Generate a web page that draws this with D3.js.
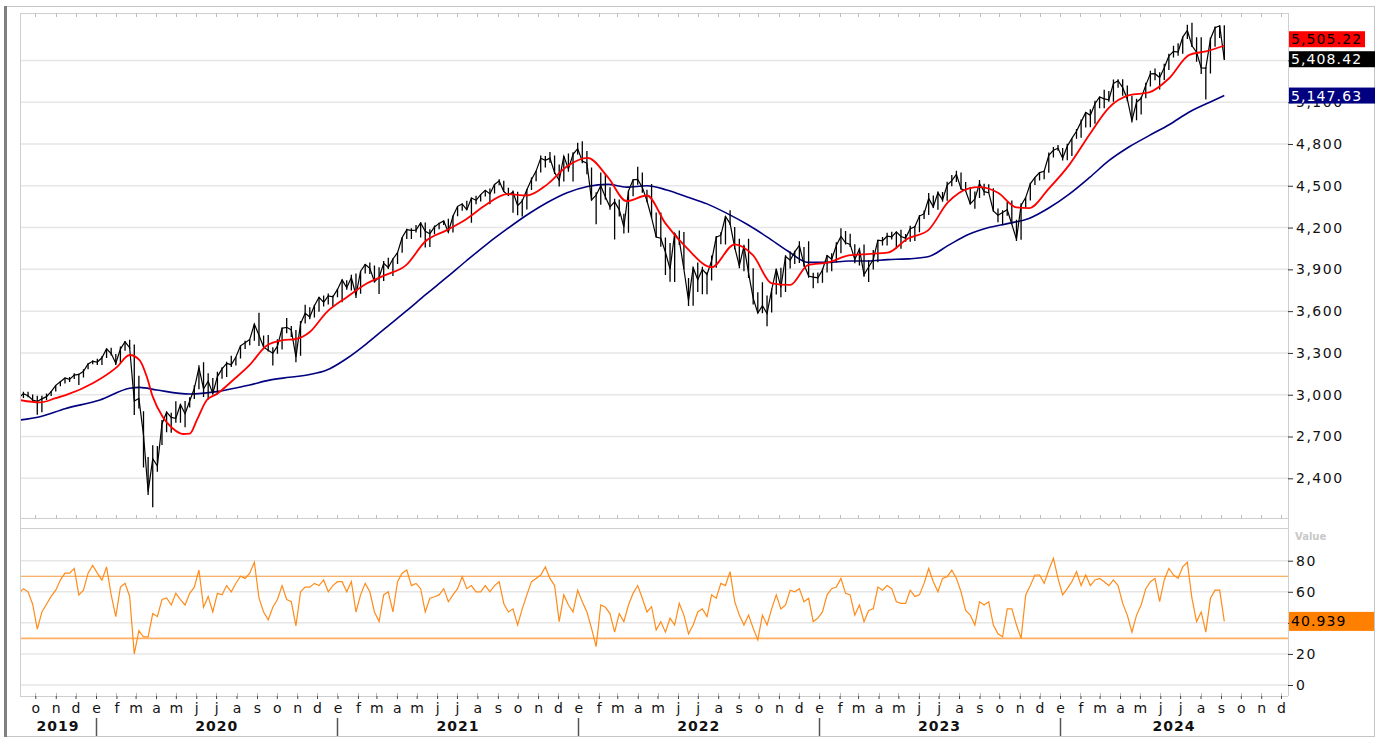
<!DOCTYPE html>
<html>
<head>
<meta charset="utf-8">
<script src="https://cdn.jsdelivr.net/npm/d3@7"></script>
<style>
  body { margin: 0; background: #fff; }
  svg { display: block; font-family: "DejaVu Sans", Verdana, sans-serif; }
</style>
</head>
<body>
<div id="root"></div>
<script>
// weekly closes, Fridays from 2019-09-06 to 2024-09-06
const closes = [
  2978.71,3007.39,2992.07,2961.79,2952.01,2970.27,2986.20,3022.55,3066.91,3093.08,
  3120.46,3110.29,3140.98,3145.91,3168.80,3221.22,3240.02,3234.85,3265.35,3329.62,
  3295.47,3225.52,3327.71,3380.16,3337.75,2954.22,2972.37,2711.02,2304.92,2541.47,
  2488.65,2789.82,2874.56,2836.74,2830.71,2929.80,2863.70,2955.45,3044.31,3193.93,
  3041.31,3097.74,3009.05,3130.01,3185.04,3224.73,3215.63,3271.12,3351.28,3372.85,
  3397.16,3508.01,3426.96,3340.97,3319.47,3298.46,3348.44,3477.13,3483.81,3465.39,
  3269.96,3509.44,3585.15,3557.54,3638.35,3699.12,3663.46,3709.41,3703.06,3756.07,
  3824.68,3768.25,3841.47,3714.24,3886.83,3934.83,3906.71,3811.15,3841.94,3943.34,
  3913.10,3974.54,4019.87,4128.80,4185.47,4180.17,4181.17,4232.60,4173.85,4155.86,
  4204.11,4229.89,4247.44,4166.45,4280.70,4352.34,4369.55,4327.16,4411.79,4395.26,
  4436.52,4468.00,4441.67,4509.37,4535.43,4458.58,4432.99,4455.48,4357.04,4391.34,
  4471.37,4544.90,4605.38,4697.53,4682.85,4697.96,4594.62,4538.43,4712.02,4620.64,
  4725.79,4766.18,4677.03,4662.85,4397.94,4431.85,4500.53,4418.64,4348.87,4384.65,
  4328.87,4204.31,4463.12,4543.06,4545.86,4488.28,4392.59,4271.78,4131.93,4123.34,
  4023.89,3901.36,4158.24,4108.54,3900.86,3674.84,3911.74,3825.33,3899.38,3863.16,
  3961.63,4130.29,4145.19,4280.15,4228.48,4057.66,3924.26,4067.36,3873.33,3693.23,
  3585.62,3639.66,3583.07,3752.75,3901.06,3770.55,3992.93,3965.34,4026.12,4071.70,
  3934.38,3852.36,3844.82,3839.50,3895.08,3999.09,3972.61,4070.56,4136.48,4090.46,
  4079.09,3970.04,4045.64,3861.59,3916.64,3970.99,4109.31,4105.02,4137.64,4133.52,
  4169.48,4136.25,4124.08,4191.98,4205.45,4282.37,4298.86,4409.59,4348.33,4450.38,
  4398.95,4505.42,4536.34,4582.23,4478.03,4464.05,4369.71,4405.71,4515.77,4457.49,
  4450.32,4320.06,4288.05,4308.50,4327.78,4224.16,4117.37,4358.34,4415.24,4514.02,
  4559.34,4594.63,4604.37,4719.19,4754.63,4769.83,4697.24,4783.83,4839.81,4890.97,
  4958.61,5026.61,5005.57,5088.80,5137.08,5123.69,5117.09,5234.18,5254.35,5204.34,
  5123.41,4967.23,5099.96,5127.79,5222.68,5303.27,5304.72,5277.51,5346.99,5431.60,
  5464.62,5460.48,5567.19,5615.35,5505.00,5459.10,5346.56,5344.16,5554.25,5634.61,
  5648.40,5408.42
];
const lows = [
  2891,2977,2982,2946,2856,2874,2962,2991,3024,3061,
  3081,3091,3113,3070,3123,3183,3219,3214,3214,3263,
  3281,3214,3223,3316,3328,2855,2901,2478,2281,2192,
  2447,2639,2730,2727,2798,2798,2767,2909,2970,3039,
  2984,2966,3004,3002,3115,3127,3199,3209,3260,3328,
  3355,3387,3349,3330,3310,3209,3294,3324,3442,3415,
  3233,3279,3512,3542,3555,3595,3633,3648,3636,3699,
  3663,3753,3749,3694,3725,3870,3866,3805,3723,3817,
  3903,3853,3939,4020,4118,4118,4164,4128,4057,4061,
  4152,4188,4218,4165,4164,4282,4321,4327,4234,4367,
  4387,4423,4368,4445,4504,4456,4427,4306,4288,4279,
  4330,4469,4533,4595,4631,4666,4585,4495,4531,4600,
  4531,4724,4662,4582,4395,4223,4363,4401,4328,4115,
  4279,4157,4162,4424,4507,4450,4381,4268,4129,4063,
  3859,3811,3810,4074,3900,3637,3639,3738,3721,3722,
  3820,3911,4080,4079,4219,4044,3907,3886,3838,3648,
  3584,3584,3491,3590,3720,3699,3737,3906,3938,3946,
  3918,3839,3764,3800,3803,3877,3886,3949,4015,4079,
  4060,3944,3928,3847,3809,3899,3951,4072,4072,4114,
  4050,4048,4099,4098,4103,4167,4261,4290,4341,4328,
  4385,4393,4497,4527,4474,4461,4365,4335,4412,4431,
  4447,4316,4238,4216,4284,4224,4104,4113,4342,4394,
  4505,4537,4546,4593,4703,4751,4682,4683,4714,4837,
  4845,4918,4920,4946,5057,5057,5104,5104,5204,5146,
  5107,4954,4970,5011,5128,5212,5257,5191,5260,5331,
  5420,5434,5448,5553,5497,5390,5302,5120,5306,5498,
  5560,5402
];
const highs = [
  2985,3021,3022,3002,2993,2993,3008,3027,3068,3098,
  3121,3128,3155,3150,3183,3226,3247,3259,3276,3330,
  3338,3293,3347,3385,3394,3360,3137,2882,2553,2637,
  2632,2818,2880,2870,2954,2933,2955,2981,3068,3211,
  3233,3155,3120,3165,3198,3236,3280,3272,3353,3388,
  3399,3509,3588,3425,3429,3341,3398,3482,3550,3494,
  3465,3529,3646,3628,3645,3702,3713,3727,3712,3760,
  3827,3822,3862,3870,3887,3938,3950,3928,3915,3960,
  3983,3979,4021,4130,4191,4195,4218,4238,4236,4187,
  4214,4235,4249,4264,4287,4355,4372,4393,4415,4429,
  4440,4468,4481,4513,4546,4536,4486,4466,4457,4404,
  4476,4560,4608,4718,4714,4743,4717,4653,4713,4731,
  4740,4808,4819,4750,4632,4453,4596,4590,4490,4406,
  4402,4299,4465,4546,4637,4595,4471,4512,4309,4308,
  4128,4090,4160,4178,4168,3838,3914,3950,3919,3880,
  3999,4140,4167,4281,4325,4204,4120,4076,4119,3908,
  3735,3807,3712,3762,3906,3911,4001,4029,4034,4101,
  4060,4101,3876,3878,3906,4003,4015,4094,4195,4176,
  4156,4080,4049,4079,3964,4039,4110,4133,4163,4170,
  4170,4184,4154,4213,4212,4291,4323,4448,4430,4458,
  4456,4528,4578,4607,4596,4527,4491,4458,4541,4515,
  4511,4482,4337,4324,4386,4394,4256,4374,4415,4521,
  4560,4599,4609,4739,4779,4793,4772,4802,4842,4907,
  4976,5030,5049,5111,5141,5190,5180,5262,5265,5264,
  5220,5146,5124,5139,5240,5326,5341,5315,5376,5448,
  5506,5524,5570,5656,5670,5566,5566,5350,5564,5643,
  5651,5652
];
// weekly RSI readings
const rsi = [
  59,62,60,52,36,47,52,57,61,67.5,
  72,72,75,58,61,72,77,72,67.5,76,
  58,44,63,65.5,57,20,35,31,31,46,
  44,55,56,51.5,59,55,51.5,59,63,74,
  50,57,47,59,58,64,60,65.5,70,68.6,
  72,79,56,47,42,50,55,64,55,53.6,
  38,60,63,63,65.4,64,67.6,60,64,66.5,
  66.5,60,66.5,47,58,65.4,60,47,40.8,58,
  60,47,66.5,71.9,74,64,65.4,62,47,55.8,
  56.8,58,62,53.6,58,62,69.7,62,64,60,
  60,64,60,64,66.5,52.5,47,49,38.6,49,
  58,66.5,68.6,70.8,76,68.6,64,40.8,58,51.5,
  47,61,53.6,47,36.5,24.7,51.5,50,46,34,
  46,40.8,51.5,59,64,55.8,47,50.4,35.4,40.8,
  34,43,38.6,52.5,45,33,38.6,47,49,44,
  58,55.8,65.4,64,73,53.6,45,38.6,45,36.5,
  29,45,38.6,49,58,49,51.5,61,60,62,
  53.6,55.8,40.8,43,47,58,62,63,68.6,59,
  58,45,51.5,40.8,48,49,63,61,64,62,
  53.6,52.5,52.5,61,57,58,65.4,75,66.5,60,
  68.6,69.7,74,68.6,60,48,45,38.6,53.6,51.5,
  53.6,38.6,33,31,49,49,38.6,30,58,64,
  70.8,70.8,65.4,74,81.5,68.6,58,62,66.5,73,
  64,70.8,64,67.6,68.6,66.5,64,67.6,64,52.5,
  45,34,45,51.5,62,66.5,68.6,53.6,67.6,75,
  70.8,68.6,76,79,55.8,40.8,47,34,55.8,61,
  61,40.939
];

// 50 day average
const ma50Dates = ['2019-09-06','2019-10-08','2019-11-01','2019-11-18','2019-12-27','2020-02-02','2020-02-21','2020-03-07','2020-03-18','2020-03-27','2020-04-11','2020-04-26','2020-05-12','2020-05-22','2020-06-02','2020-06-17','2020-07-02','2020-07-27','2020-08-21','2020-09-15','2020-10-09','2020-10-30','2020-11-20','2020-12-15','2021-01-15','2021-02-15','2021-03-15','2021-04-15','2021-05-14','2021-06-15','2021-07-15','2021-08-13','2021-09-15','2021-10-15','2021-11-15','2021-12-15','2022-01-15','2022-02-15','2022-03-15','2022-04-15','2022-05-13','2022-06-15','2022-07-22','2022-08-26','2022-09-23','2022-10-21','2022-11-18','2022-12-15','2023-01-15','2023-02-15','2023-03-15','2023-04-15','2023-05-15','2023-06-15','2023-07-15','2023-08-15','2023-09-01','2023-09-29','2023-10-27','2023-11-15','2023-12-15','2024-01-15','2024-02-15','2024-03-15','2024-04-15','2024-05-15','2024-06-14','2024-07-15','2024-08-09','2024-09-06'];
const ma50 = [2963,2945,2975,3000,3082,3200,3285,3249,3129,2986,2842,2759,2718,2720,2819,2962,3005,3106,3214,3350,3390,3400,3450,3590,3700,3800,3860,3930,4100,4180,4260,4360,4440,4430,4510,4640,4700,4560,4390,4430,4230,4050,3915,4080,4000,3800,3788,3930,3950,4000,4010,4020,4120,4180,4380,4480,4490,4450,4345,4340,4480,4650,4870,5060,5150,5170,5270,5440,5465,5505.22];

// 200 day average
const ma200Dates = ['2019-09-06','2019-10-08','2019-11-15','2020-01-07','2020-02-21','2020-03-07','2020-04-02','2020-05-22','2020-07-02','2020-08-21','2020-09-20','2020-10-20','2020-11-20','2020-12-15','2021-01-15','2021-02-15','2021-03-15','2021-04-15','2021-05-15','2021-06-15','2021-07-15','2021-08-15','2021-09-15','2021-10-15','2021-11-15','2021-12-15','2022-01-15','2022-02-15','2022-03-15','2022-04-15','2022-05-15','2022-06-15','2022-07-15','2022-08-15','2022-09-15','2022-10-15','2022-11-15','2022-12-15','2023-01-15','2023-02-15','2023-03-15','2023-04-15','2023-05-15','2023-06-15','2023-07-15','2023-08-15','2023-09-15','2023-10-15','2023-11-15','2023-12-15','2024-01-15','2024-02-15','2024-03-15','2024-04-15','2024-05-15','2024-06-15','2024-07-15','2024-08-15','2024-09-06'];
const ma200 = [2817,2842,2900,2962,3046,3053,3034,3005,3022,3070,3105,3125,3145,3175,3260,3370,3480,3600,3720,3840,3960,4080,4190,4290,4380,4450,4495,4510,4490,4500,4470,4420,4370,4300,4220,4130,4030,3950,3950,3960,3960,3970,3975,3990,4070,4150,4200,4230,4265,4340,4440,4560,4680,4780,4860,4940,5030,5100,5147.63];

const priceTicks = [2400, 2700, 3000, 3300, 3600, 3900, 4200, 4500, 4800, 5100, 5400];
const rsiTicks = [0, 20, 40, 60, 80];
const rsiBands = [70, 30];
const monthLetters = ['e', 'f', 'm', 'a', 'm', 'j', 'j', 'a', 's', 'o', 'n', 'd'];
const years = [2019, 2020, 2021, 2022, 2023, 2024];

const width = 1384;
const height = 738;
const left = 20, right = 1288;
const priceTop = 13, priceBottom = 518;
const rsiTop = 528, rsiBottom = 696;
const boxH = 16;

const parse = d3.utcParse('%Y-%m-%d');
const weeks = d3.utcFriday.range(new Date(Date.UTC(2019, 8, 6)), new Date(Date.UTC(2024, 8, 7)));

const x = d3.scaleUtc()
    .domain([new Date(Date.UTC(2020, 0, 1)), new Date(Date.UTC(2024, 0, 1))])
    .range([96, 1060]);
const yPrice = d3.scaleLinear().domain([2400, 5400]).range([478.3, 60.4]);
const yRsi = d3.scaleLinear().domain([0, 80]).range([685, 560.7]);

// last value labels (worked out first so covered tick labels can be skipped)
const lastClose = closes[closes.length - 1];
const last50 = ma50[ma50.length - 1];
const last200 = ma200[ma200.length - 1];
const lastRsi = rsi[rsi.length - 1];
const closeY = yPrice(lastClose);
const labels = [
    {text: d3.format(',.2f')(lastClose), fill: '#000', color: '#fff', cy: closeY, w: 86, h: boxH},
    {text: d3.format(',.2f')(last50), fill: '#ff0000', color: '#000', cy: Math.min(yPrice(last50), closeY - boxH - 4), w: 76, h: boxH},
    {text: d3.format(',.2f')(last200), fill: '#000080', color: '#fff', cy: yPrice(last200), w: 86, h: boxH},
    {text: d3.format('.3f')(lastRsi), fill: '#ff7f00', color: '#000', cy: yRsi(lastRsi), w: 85, h: 19}
];
const hidden = yy => labels.some(l => Math.abs(l.cy - yy) < 4);

const svg = d3.select('#root')
    .append('svg')
    .attr('width', width)
    .attr('height', height);

// outer frame
svg.append('rect')
    .attr('x', 5.5).attr('y', 6.5)
    .attr('width', 1369).attr('height', 730)
    .attr('fill', 'none')
    .attr('stroke', '#c4c4c4');
svg.append('line')
    .attr('x1', 5.5).attr('x2', 5.5)
    .attr('y1', 6).attr('y2', 737)
    .attr('stroke', '#808080')
    .attr('stroke-width', 3);

// grid lines
svg.append('g')
    .selectAll('line')
    .data(priceTicks)
    .join('line')
    .attr('x1', left).attr('x2', right)
    .attr('y1', d => yPrice(d)).attr('y2', d => yPrice(d))
    .attr('stroke', '#e6e6e6')
    .attr('stroke-width', 1.5);
svg.append('g')
    .selectAll('line')
    .data(rsiTicks)
    .join('line')
    .attr('x1', left).attr('x2', right)
    .attr('y1', d => yRsi(d)).attr('y2', d => yRsi(d))
    .attr('stroke', '#e6e6e6')
    .attr('stroke-width', 1.5);

// panel borders
const borders = svg.append('g').attr('stroke', '#cfcfcf').attr('fill', 'none');
[priceTop, priceBottom, rsiTop, rsiBottom].forEach(yy => {
    borders.append('line')
        .attr('x1', left).attr('x2', right)
        .attr('y1', yy + 0.5).attr('y2', yy + 0.5);
});
borders.append('line')
    .attr('x1', left + 0.5).attr('x2', left + 0.5)
    .attr('y1', priceTop).attr('y2', rsiBottom);
borders.append('line')
    .attr('x1', right + 0.5).attr('x2', right + 0.5)
    .attr('y1', priceTop).attr('y2', rsiBottom);

// month ticks on the panel edges
const months = d3.utcMonth.range(new Date(Date.UTC(2019, 9, 1)), new Date(Date.UTC(2025, 0, 1)));
const tickG = svg.append('g').attr('stroke', '#bdbdbd');
months.forEach(m => {
    const xx = Math.round(x(m)) + 0.5;
    tickG.append('line').attr('x1', xx).attr('x2', xx).attr('y1', priceTop).attr('y2', priceTop + 4);
    tickG.append('line').attr('x1', xx).attr('x2', xx).attr('y1', priceBottom - 3).attr('y2', priceBottom);
    tickG.append('line').attr('x1', xx).attr('x2', xx).attr('y1', rsiBottom - 3).attr('y2', rsiBottom);
});

// x axis: month letters
const xAxis = svg.append('g')
    .attr('transform', `translate(0,${rsiBottom})`)
    .call(d3.axisBottom(x)
        .tickValues(months)
        .tickFormat(d => monthLetters[d.getUTCMonth()])
        .tickSize(3)
        .tickPadding(4));
xAxis.select('.domain').remove();
xAxis.selectAll('.tick line').attr('stroke', '#444');
xAxis.selectAll('text')
    .attr('font-size', 14)
    .attr('font-family', '"DejaVu Sans", Verdana, sans-serif')
    .attr('fill', '#111');

// years
const yearStarts = years.slice(1).map(y => new Date(Date.UTC(y, 0, 1)));
svg.append('g')
    .selectAll('line')
    .data(yearStarts)
    .join('line')
    .attr('x1', d => Math.round(x(d)) + 0.5).attr('x2', d => Math.round(x(d)) + 0.5)
    .attr('y1', 718).attr('y2', 736)
    .attr('stroke', '#555')
    .attr('stroke-width', 1.5);
svg.append('g')
    .selectAll('text')
    .data(years)
    .join('text')
    .attr('x', y => {
        const a = Math.max(left, x(new Date(Date.UTC(y, 0, 1))));
        const b = Math.min(right, x(new Date(Date.UTC(y + 1, 0, 1))));
        return (a + b) / 2;
    })
    .attr('y', 731)
    .attr('text-anchor', 'middle')
    .attr('font-size', 14)
    .attr('font-weight', 'bold')
    .attr('letter-spacing', 1)
    .attr('fill', '#111')
    .text(d => d);

// right axes
const priceAxis = svg.append('g')
    .attr('transform', `translate(${right},0)`)
    .call(d3.axisRight(yPrice).tickValues(priceTicks).tickFormat(d3.format(',')).tickSize(5).tickPadding(3));
const rsiAxis = svg.append('g')
    .attr('transform', `translate(${right},0)`)
    .call(d3.axisRight(yRsi).tickValues(rsiTicks).tickSize(5).tickPadding(3));
[[priceAxis, yPrice], [rsiAxis, yRsi]].forEach(([ax, sc]) => {
    ax.select('.domain').remove();
    ax.selectAll('.tick line').attr('stroke', '#333');
    ax.selectAll('text')
        .attr('font-size', 14)
        .attr('font-family', '"DejaVu Sans", Verdana, sans-serif')
        .attr('letter-spacing', 1.5)
        .attr('fill', '#111');
    // labels sitting right under a value box are not seen in the original
    ax.selectAll('.tick').filter(d => hidden(sc(d))).select('text').remove();
});

svg.append('text')
    .attr('x', 1295).attr('y', 540)
    .attr('font-size', 10)
    .attr('font-weight', 'bold')
    .attr('fill', '#c8c8c8')
    .text('Value');

// clip regions
svg.append('clipPath').attr('id', 'clip-price')
    .append('rect').attr('x', left + 1).attr('y', priceTop + 1)
    .attr('width', right - left - 1).attr('height', priceBottom - priceTop - 1);
svg.append('clipPath').attr('id', 'clip-rsi')
    .append('rect').attr('x', left + 1).attr('y', rsiTop + 1)
    .attr('width', right - left - 1).attr('height', rsiBottom - rsiTop - 1);

const price = svg.append('g').attr('clip-path', 'url(#clip-price)');

// 200 day
price.append('path')
    .datum(ma200Dates.map((d, i) => [parse(d), ma200[i]]))
    .attr('fill', 'none')
    .attr('stroke', '#00007f')
    .attr('stroke-width', 1.6)
    .attr('d', d3.line().curve(d3.curveMonotoneX).x(d => x(d[0])).y(d => yPrice(d[1])));

// weekly range bars + close line
price.append('path')
    .attr('fill', 'none')
    .attr('stroke', '#000')
    .attr('stroke-width', 1.3)
    .attr('d', weeks.map((w, i) => `M${x(w)},${yPrice(lows[i])}V${yPrice(highs[i])}`).join(''));
price.append('path')
    .datum(weeks.map((w, i) => [w, closes[i]]))
    .attr('fill', 'none')
    .attr('stroke', '#000')
    .attr('stroke-width', 1.2)
    .attr('d', d3.line().x(d => x(d[0])).y(d => yPrice(d[1])));

// 50 day
price.append('path')
    .datum(ma50Dates.map((d, i) => [parse(d), ma50[i]]))
    .attr('fill', 'none')
    .attr('stroke', '#ff0000')
    .attr('stroke-width', 1.8)
    .attr('d', d3.line().curve(d3.curveMonotoneX).x(d => x(d[0])).y(d => yPrice(d[1])));

// RSI panel
const rsiG = svg.append('g').attr('clip-path', 'url(#clip-rsi)');
rsiG.append('line')
    .attr('x1', left).attr('x2', right)
    .attr('y1', yRsi(rsiBands[0])).attr('y2', yRsi(rsiBands[0]))
    .attr('stroke', '#f39a3c').attr('stroke-width', 1.2);
rsiG.append('line')
    .attr('x1', left).attr('x2', right)
    .attr('y1', yRsi(rsiBands[1])).attr('y2', yRsi(rsiBands[1]))
    .attr('stroke', '#ffb064').attr('stroke-width', 1.6);
rsiG.append('path')
    .datum(weeks.map((w, i) => [w, rsi[i]]))
    .attr('fill', 'none')
    .attr('stroke', '#ff8c1a')
    .attr('stroke-width', 1.2)
    .attr('d', d3.line().x(d => x(d[0])).y(d => yRsi(d[1])));

// value boxes on the right
const lab = svg.append('g')
    .selectAll('g')
    .data(labels)
    .join('g')
    .attr('transform', d => `translate(${right + 1},${d.cy})`);
lab.append('rect')
    .attr('x', 0)
    .attr('y', d => -d.h / 2)
    .attr('width', d => d.w)
    .attr('height', d => d.h)
    .attr('fill', d => d.fill);
lab.append('text')
    .attr('x', 2)
    .attr('y', 5)
    .attr('font-size', 14)
    .attr('letter-spacing', 1.1)
    .attr('fill', d => d.color)
    .text(d => d.text);
</script>
</body>
</html>
